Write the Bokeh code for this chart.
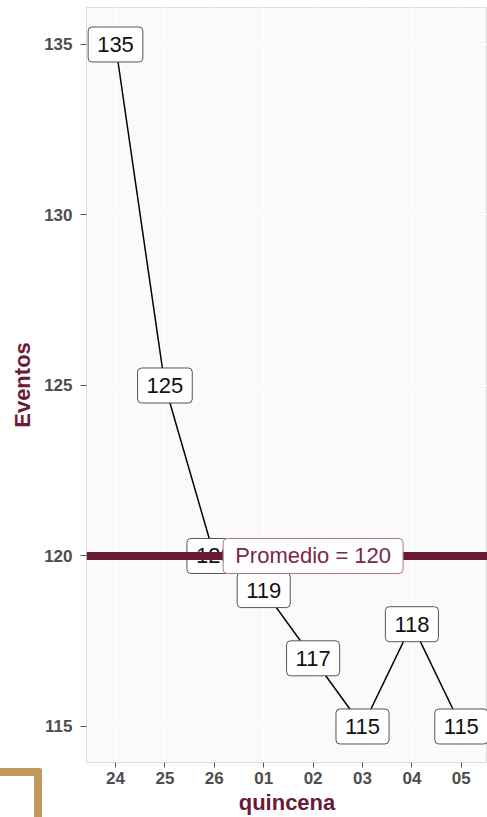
from bokeh.plotting import figure
from bokeh.models import Range1d, FixedTicker, Span, Label, ColumnDataSource
from bokeh.embed import file_html
from bokeh.resources import INLINE
from bokeh.core.properties import value

# ---- data ----
quincenas = ["24", "25", "26", "01", "02", "03", "04", "05"]
eventos = [135, 125, 120, 119, 117, 115, 118, 115]
promedio = 120
promedio_label = "Promedio = 120"
y_ticks = [115, 120, 125, 130, 135]

MAROON = "#6b1a36"
FONT = "Liberation Sans"

x_idx = list(range(len(quincenas)))
src = ColumnDataSource(dict(x=x_idx, y=eventos, lab=[str(v) for v in eventos]))

p = figure(width=487, height=817, output_backend="svg", toolbar_location=None,
           x_range=Range1d(-0.587, 7.530), y_range=Range1d(113.944, 136.085),
           min_border_left=86, min_border_right=0, min_border_top=7,
           min_border_bottom=55)

p.background_fill_color = "#fafafa"
p.border_fill_color = "white"
p.outline_line_color = "#dcdcdc"
p.outline_line_width = 1

# axes
p.xaxis.ticker = FixedTicker(ticks=x_idx)
p.xaxis.major_label_overrides = {i: q for i, q in enumerate(quincenas)}
p.yaxis.ticker = FixedTicker(ticks=y_ticks)
p.xgrid.ticker = FixedTicker(ticks=x_idx)
p.ygrid.ticker = FixedTicker(ticks=y_ticks)
p.grid.grid_line_color = "white"
p.grid.grid_line_width = 1

for ax in (p.xaxis[0], p.yaxis[0]):
    ax.axis_line_color = None
    ax.minor_tick_line_color = None
    ax.major_tick_line_color = "#555555"
    ax.major_tick_in = 0
    ax.major_label_text_font = FONT
    ax.major_label_text_font_size = "17px"
    ax.major_label_text_font_style = "bold"
    ax.major_label_text_color = "#4d4d4d"
    ax.axis_label_text_font = FONT
    ax.axis_label_text_font_size = "22px"
    ax.axis_label_text_font_style = "bold"
    ax.axis_label_text_color = MAROON

p.yaxis.major_tick_out = 6
p.yaxis.major_label_standoff = 8
p.yaxis.axis_label = "Eventos"
p.yaxis.axis_label_standoff = 6
p.xaxis.major_tick_out = 5
p.xaxis.major_label_standoff = 4
p.xaxis.axis_label = "quincena"
p.xaxis.axis_label_standoff = 3

# line and value labels
p.line("x", "y", source=src, line_color="black", line_width=1.5)
p.text("x", "y", text="lab", source=src, text_font=value(FONT),
       text_font_size="22px", text_align="center", text_baseline="middle",
       text_color="#111111", background_fill_color="white",
       border_line_color="#555555", border_line_width=1,
       padding=dict(left=9, right=9, top=10, bottom=10), border_radius=4)

# average line and label
p.add_layout(Span(location=promedio, dimension="width", line_color=MAROON,
                  line_width=8))
p.add_layout(Label(x=4, y=promedio, text=promedio_label, text_font=FONT,
                   text_font_size="22px", text_align="center",
                   text_baseline="middle", text_color="#7a2848",
                   background_fill_color="white", border_line_color="#a87888",
                   border_line_width=1,
                   padding=dict(left=12, right=12, top=5, bottom=5),
                   border_radius=4))

# decorative bracket in the bottom-left corner (page decoration, via CSS)
p.stylesheets = [
    ":host::after { content: ''; position: absolute; left: 0px; top: 768px;"
    " width: 42px; height: 49px; box-sizing: border-box;"
    " border-top: 8px solid #c19a5b; border-right: 8px solid #c19a5b;"
    " border-top-right-radius: 3px; pointer-events: none; z-index: 10; }"
]

open("out.html", "w").write(file_html(p, INLINE))
